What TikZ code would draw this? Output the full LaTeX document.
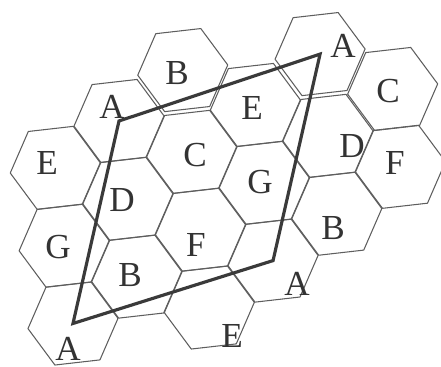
\documentclass[tikz,border=0pt]{standalone}
\usepackage{fontspec}
\setmainfont{Liberation Serif}
\definecolor{hexgray}{HTML}{5E5E5E}
\definecolor{framegray}{HTML}{3A3A3A}
\definecolor{namegray}{HTML}{333333}
\begin{document}
\begin{tikzpicture}[x=0.02cm, y=-0.02cm,
    hexline/.style={draw=hexgray, line width=0.6pt, line join=round},
    reuseline/.style={draw=framegray, line width=1.8pt, line join=miter},
    cellname/.style={text=namegray, font=\fontsize{20}{20}\selectfont, inner sep=0pt}]
  \useasboundingbox (0,0) rectangle (441,367);

  % cells: lattice index a/b, small shift dx/dy, channel, letter position
  \foreach \a/\b/\dx/\dy/\t/\lx/\ly in {1/-1/0/-4/B/177/73, 3/-2/1/-4/A/343/46,
      0/0/0/0/A/112/107, 2/-1/0/0/E/252/108, 4/-2/1/0/C/388/91,
      -1/1/0/0/E/47/163, 1/0/0/0/C/195/155, 3/-1/0/0/D/352/146,
      0/1/0/0/D/122/200, 2/0/0/0/G/260/182, 4/-1/0/0/F/395/163,
      -1/2/0/0/G/58/247, 1/1/0/0/F/196/245, 3/0/0/0/B/333/228,
      0/2/0/0/B/130/275, 2/1/0/0/A/297/284, -1/3/0/0/A/68/349,
      1/2/0/0/E/232/336} {
    \coordinate (c\a\b) at ({119+72.6*\a+8.86*\b+\dx},{121+30.9*\a+77.8*\b+\dy});
    \draw[hexline] (c\a\b) +(-6.5:45.3) -- +(53.5:45.3) -- +(113.5:45.3)
      -- +(173.5:45.3) -- +(233.5:45.3) -- +(293.5:45.3) -- cycle;
    \node[cellname] (n\a\b) at (\lx,\ly) {\t};
  }

  % co-channel cells of A
  \draw[reuseline] (c00) -- (c3-2) -- (c21) -- (c-13) -- cycle;
\end{tikzpicture}
\end{document}
